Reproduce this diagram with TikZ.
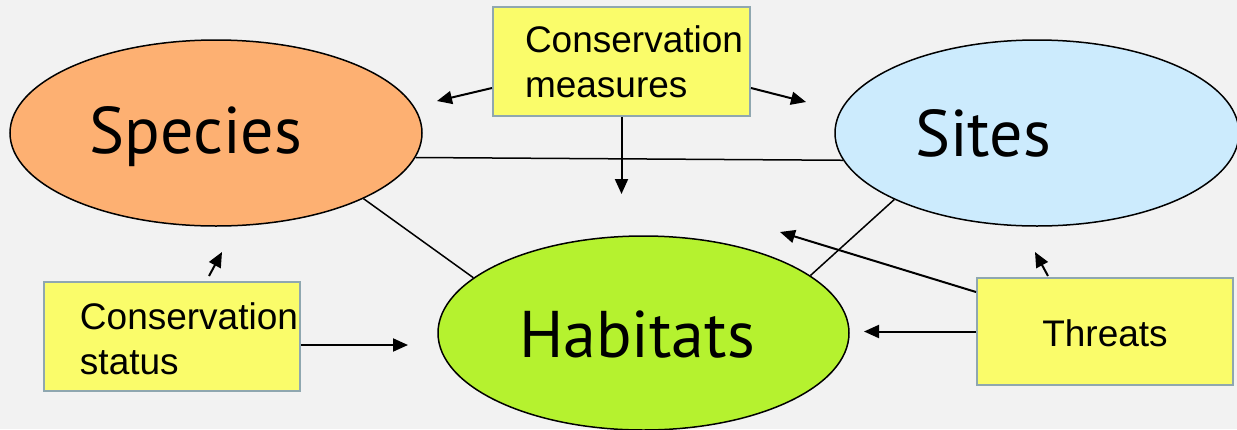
\documentclass[tikz,border=0pt]{standalone}
\usepackage{fontspec}
\setmainfont{Liberation Sans}
\newfontfamily\ellfont{PT Sans}
\usetikzlibrary{shapes.geometric,arrows.meta,calc}
\definecolor{bg}{HTML}{F2F2F2}
\definecolor{spc}{HTML}{FDB072}
\definecolor{sit}{HTML}{CCEBFD}
\definecolor{hab}{HTML}{B5F22F}
\definecolor{boxfill}{HTML}{FAFC6A}
\definecolor{boxline}{HTML}{8FA7B0}
\newcommand{\lowr}[2]{\raisebox{-#1}[\height][\depth]{#2}}
\begin{document}
\begin{tikzpicture}[x=1pt,y=-1pt,
  ell/.style={ellipse,draw=black,line width=1.5pt,inner sep=0pt,font=\ellfont\fontsize{66}{70}\selectfont},
  box/.style={rectangle,draw=boxline,fill=boxfill,line width=2pt,inner sep=0pt,font=\fontsize{37}{45}\selectfont},
  arr/.style={line width=2pt,-{Triangle[length=15pt,width=13pt]}},
  lnk/.style={line width=1.5pt}]
\fill[bg] (0,0) rectangle (1237,429);
\useasboundingbox (0,0) rectangle (1237,429);
% ellipses
\node[ell,fill=spc,minimum width=412pt,minimum height=186pt] (sp) at (216,133) {\lowr{4pt}{\hspace*{-40pt}Species}};
\node[ell,fill=sit,minimum width=404pt,minimum height=186pt] (st) at (1037,133) {\hspace*{-108pt}Sites};
\node[ell,fill=hab,minimum width=411pt,minimum height=194pt] (hb) at (643.5,333) {\lowr{2pt}{\hspace*{-13pt}Habitats}};
% boxes
\node[box,minimum width=257pt,minimum height=109pt] (cm) at (621.5,61.5)
  {\lowr{4pt}{\begin{tabular}{@{\hspace{25pt}}l@{}}Conservation\\measures\end{tabular}}};
\node[box,minimum width=256pt,minimum height=109pt] (cs) at (172,336.5)
  {\lowr{6pt}{\begin{tabular}{@{\hspace{34pt}}l@{}}Conservation\\status\end{tabular}}};
\node[box,minimum width=256pt,minimum height=107pt] (th) at (1105,331.5) {\lowr{2pt}{Threats}};
% links
\draw[lnk] (sp.-7.2) -- (st.-172.7);
\draw[lnk] (sp.-24) -- (hb.162.4);
\draw[lnk] (st.-155.5) -- (hb.19.5);
% arrow tips
\coordinate (tA) at (437,101);
\coordinate (tB) at (806,102);
\coordinate (tC) at (621.5,194);
\coordinate (tD) at (222,252);
\coordinate (tE) at (408,345);
\coordinate (tF) at (864,331.5);
\coordinate (tG) at (780,232);
\coordinate (tH) at (1035,252);
% arrows
\draw[arr] ([yshift=-26.5pt]cm.west) -- (tA);
\draw[arr] ([yshift=-26.5pt]cm.east) -- (tB);
\draw[arr] (cm.south) -- (tC);
\draw[arr] ([xshift=37pt,yshift=5pt]cs.north) -- (tD);
\draw[arr] ([yshift=-8.5pt]cs.east) -- (tE);
\draw[arr] (th.west) -- (tF);
\draw[arr] ([yshift=39.5pt]th.west) -- (tG);
\draw[arr] ([xshift=-57pt,yshift=1pt]th.north) -- (tH);
\end{tikzpicture}
\end{document}
